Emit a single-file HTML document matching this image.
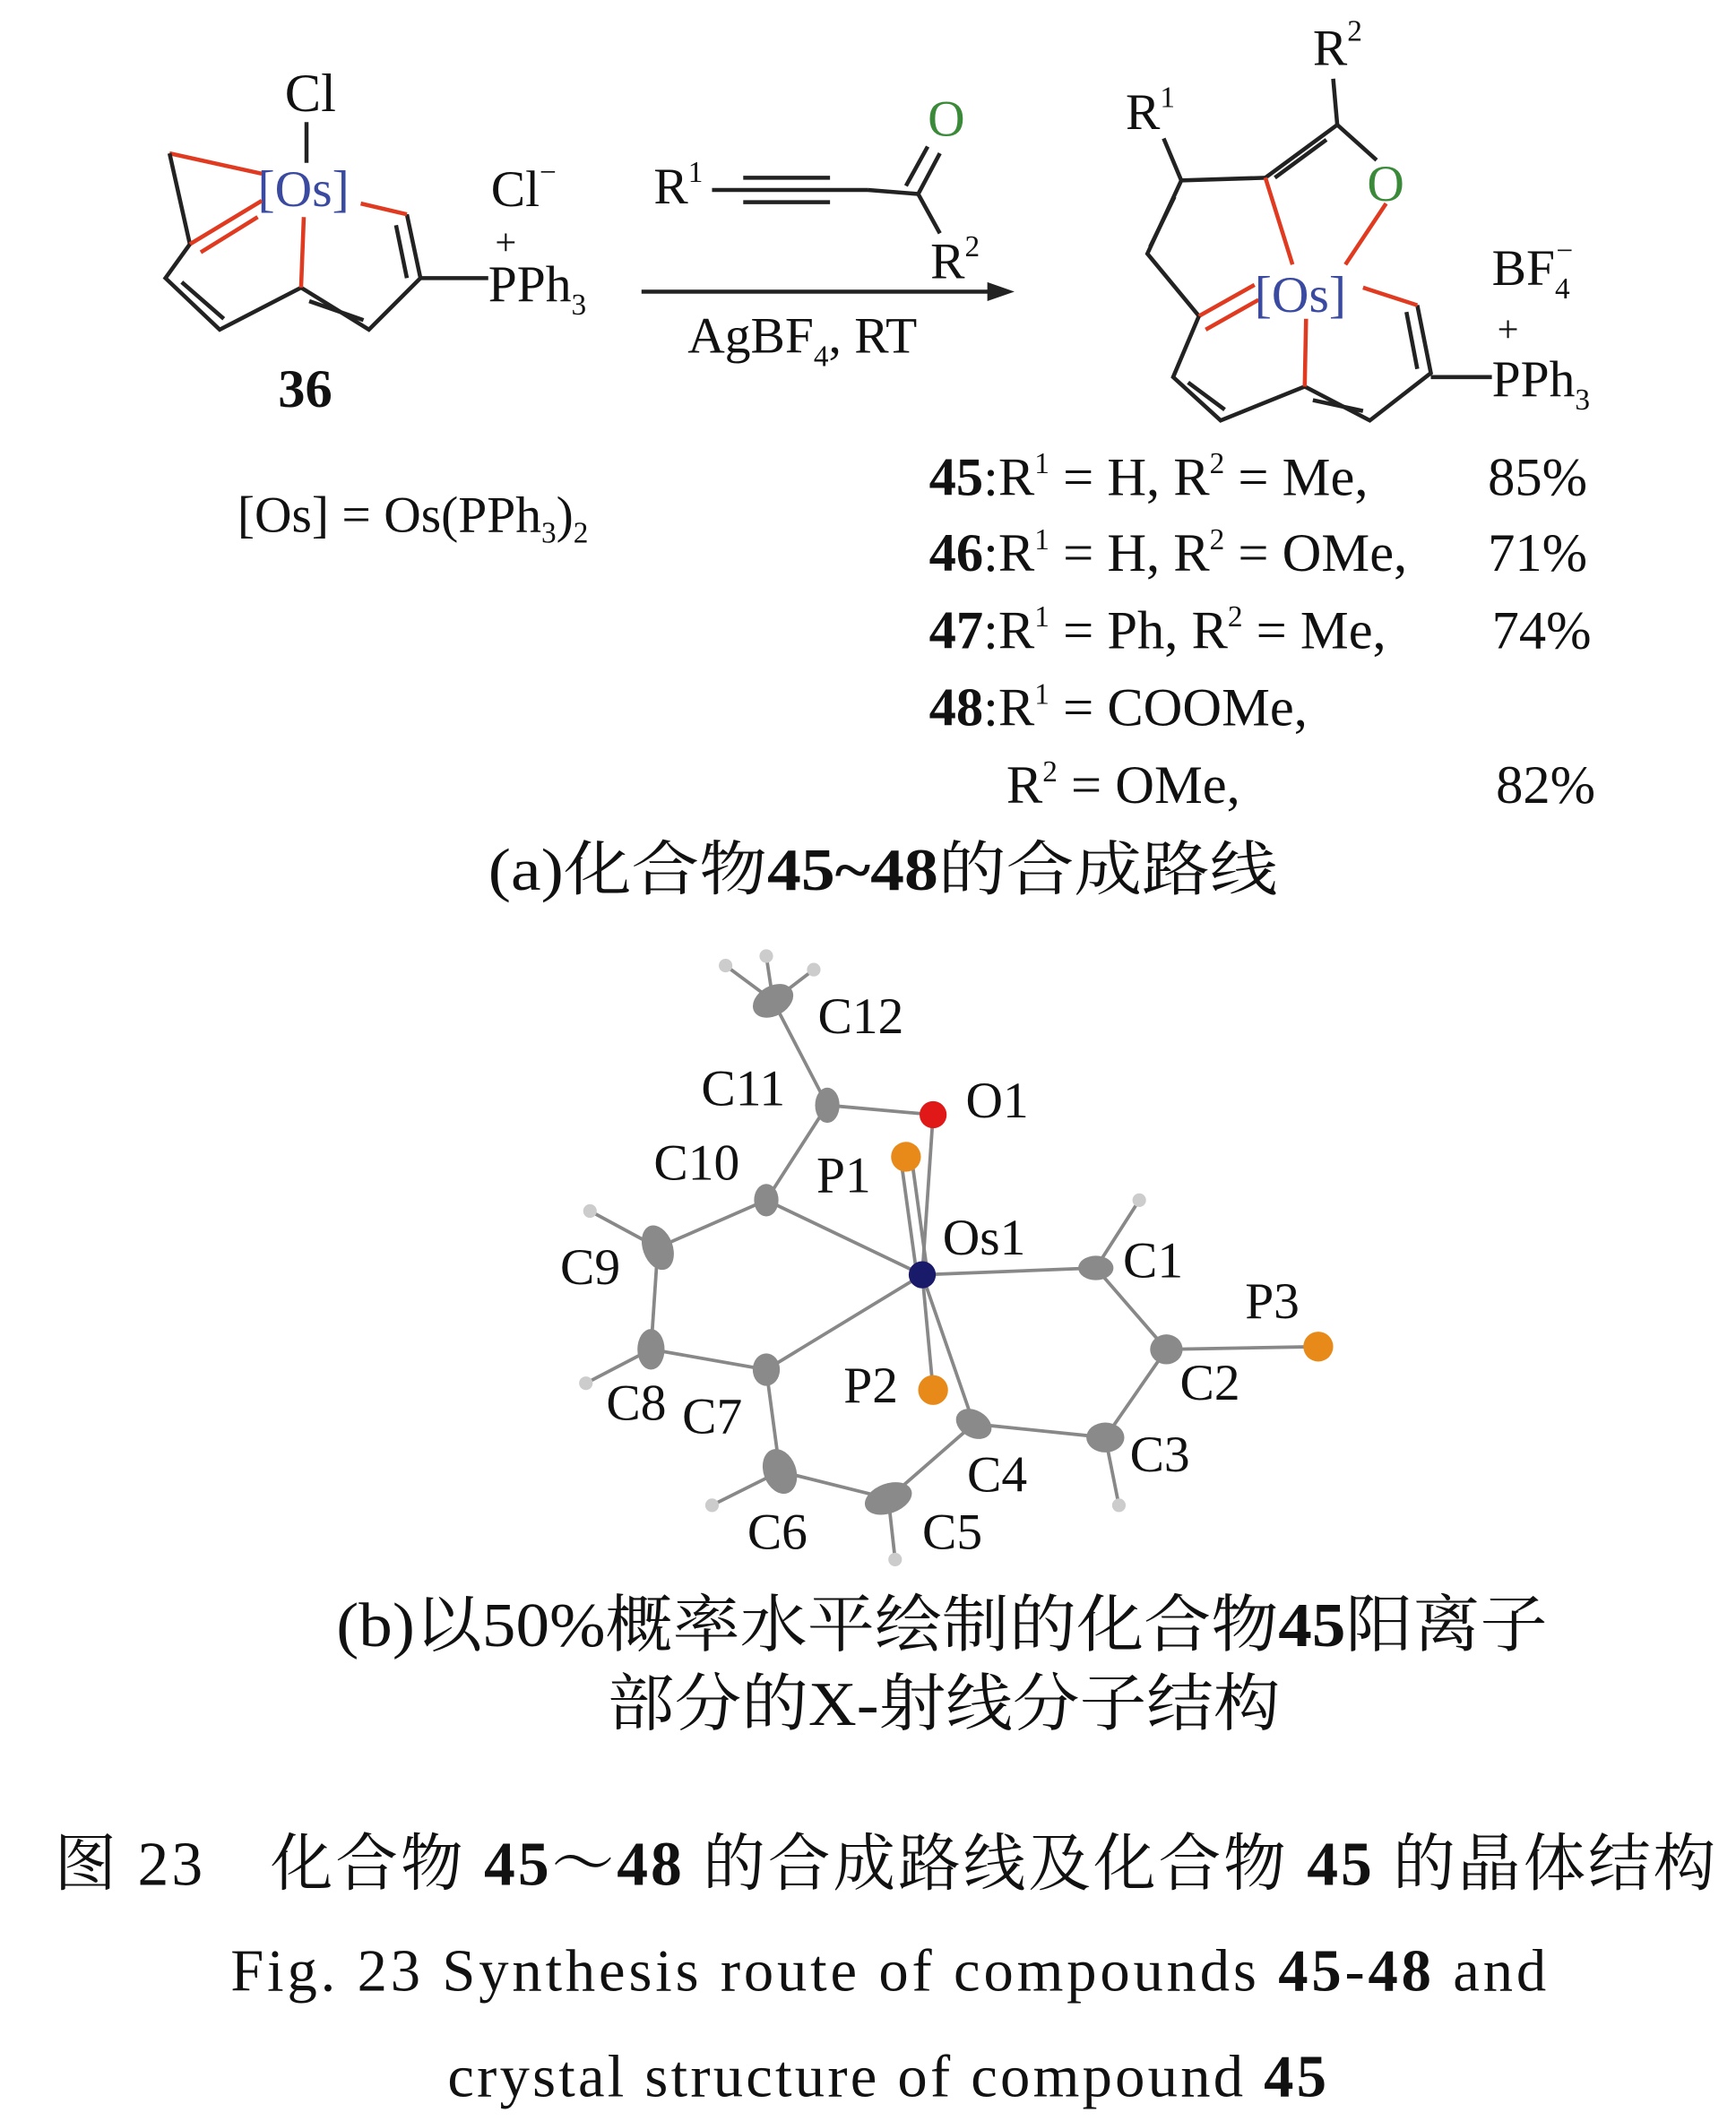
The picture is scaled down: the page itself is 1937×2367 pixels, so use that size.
<!DOCTYPE html>
<html><head><meta charset="utf-8"><style>
html,body{margin:0;padding:0;background:#fff}
svg{display:block}
text{font-family:"Liberation Serif","Noto Serif CJK SC",serif;fill:#111}
.b{stroke:#222;stroke-width:3;fill:none}
.r{stroke:#e03a20;stroke-width:3;fill:none}
.g{stroke:#888;stroke-width:2.5}
</style></head><body>
<svg width="1937" height="2367" viewBox="0 0 1280 1564" xmlns="http://www.w3.org/2000/svg">
<!-- compound 36 -->
<text x="210" y="82" font-size="40">Cl</text>
<line class="b" x1="226" y1="90" x2="226" y2="120"/>
<text x="190" y="152" font-size="38" style="fill:#3a4aa0">[Os]</text>
<polyline class="r" points="193,128 125,113"/>
<polyline class="b" points="125,113 140,180"/>
<line class="r" x1="193" y1="148" x2="140" y2="180"/>
<line class="r" x1="190" y1="160" x2="148" y2="186"/>
<polyline class="b" points="140,180 122,205 162,243 222,212 272,243 310,205 300,158"/>
<line class="b" x1="134" y1="208" x2="165" y2="235"/>
<line class="b" x1="228" y1="222" x2="268" y2="236"/>
<line class="b" x1="300" y1="205" x2="292" y2="166"/>
<line class="r" x1="300" y1="158" x2="266" y2="150"/>
<line class="r" x1="224" y1="160" x2="222" y2="212"/>
<line class="b" x1="310" y1="205" x2="360" y2="205"/>
<text x="362" y="152" font-size="38">Cl<tspan font-size="22" dy="-18">−</tspan></text>
<text x="365" y="188" font-size="28">+</text>
<text x="360" y="222" font-size="38">PPh<tspan font-size="22" dy="10">3</tspan></text>
<text x="205" y="300" font-size="40" font-weight="bold">36</text>
<text x="175" y="392" font-size="38">[Os] = Os(PPh<tspan font-size="22" dy="8">3</tspan><tspan dy="-8">)</tspan><tspan font-size="22" dy="8">2</tspan></text>
<!-- reagent -->
<text x="482" y="150" font-size="38">R<tspan font-size="22" dy="-16">1</tspan></text>
<line class="b" x1="525" y1="140" x2="640" y2="140"/>
<line class="b" x1="548" y1="131" x2="612" y2="131"/>
<line class="b" x1="548" y1="149" x2="612" y2="149"/>
<line class="b" x1="640" y1="140" x2="677" y2="143"/>
<line class="b" x1="677" y1="143" x2="693" y2="113"/>
<line class="b" x1="668" y1="137" x2="684" y2="108"/>
<line class="b" x1="677" y1="143" x2="693" y2="172"/>
<text x="684" y="100" font-size="38" style="fill:#3a8a3a">O</text>
<text x="686" y="205" font-size="38">R<tspan font-size="22" dy="-16">2</tspan></text>
<line class="b" x1="473" y1="215" x2="735" y2="215"/>
<polygon points="748,215 728,208 728,222" fill="#222"/>
<text x="507" y="260" font-size="38">AgBF<tspan font-size="22" dy="10">4</tspan><tspan dy="-10">, RT</tspan></text>
<!-- product -->
<text x="968" y="48" font-size="38">R<tspan font-size="22" dy="-18">2</tspan></text>
<line class="b" x1="983" y1="58" x2="986" y2="92"/>
<line class="b" x1="986" y1="92" x2="1015" y2="118"/>
<text x="1008" y="148" font-size="38" style="fill:#3a8a3a">O</text>
<line class="b" x1="986" y1="92" x2="933" y2="131"/>
<line class="b" x1="978" y1="103" x2="940" y2="131"/>
<text x="830" y="95" font-size="38">R<tspan font-size="22" dy="-16">1</tspan></text>
<line class="b" x1="858" y1="102" x2="871" y2="133"/>
<polyline class="b" points="933,131 871,133 846,187 884,233"/>
<line class="b" x1="866" y1="145" x2="848" y2="182"/>
<line class="r" x1="884" y1="233" x2="925" y2="210"/>
<line class="r" x1="889" y1="243" x2="928" y2="221"/>
<line class="r" x1="933" y1="131" x2="953" y2="195"/>
<line class="r" x1="1022" y1="150" x2="992" y2="195"/>
<text x="925" y="230" font-size="38" style="fill:#3a4aa0">[Os]</text>
<polyline class="b" points="884,233 865,278 900,310 962,285 1010,310 1055,275 1045,225"/>
<line class="b" x1="876" y1="282" x2="903" y2="302"/>
<line class="b" x1="968" y1="295" x2="1005" y2="303"/>
<line class="b" x1="1045" y1="272" x2="1037" y2="230"/>
<line class="r" x1="1045" y1="225" x2="1005" y2="212"/>
<line class="r" x1="963" y1="235" x2="962" y2="285"/>
<line class="b" x1="1055" y1="278" x2="1100" y2="278"/>
<text x="1100" y="210" font-size="38">BF<tspan font-size="22" dy="10">4</tspan><tspan font-size="22" dx="-10" dy="-28">−</tspan></text>
<text x="1104" y="252" font-size="28">+</text>
<text x="1100" y="292" font-size="38">PPh<tspan font-size="22" dy="10">3</tspan></text>
<!-- yields -->
<g font-size="40">
<text x="685" y="365"><tspan font-weight="bold">45</tspan>:R<tspan font-size="22" dy="-16">1</tspan><tspan dy="16"> = H, R</tspan><tspan font-size="22" dy="-16">2</tspan><tspan dy="16"> = Me,</tspan></text><text x="1097" y="365">85%</text>
<text x="685" y="421"><tspan font-weight="bold">46</tspan>:R<tspan font-size="22" dy="-16">1</tspan><tspan dy="16"> = H, R</tspan><tspan font-size="22" dy="-16">2</tspan><tspan dy="16"> = OMe,</tspan></text><text x="1097" y="421">71%</text>
<text x="685" y="478"><tspan font-weight="bold">47</tspan>:R<tspan font-size="22" dy="-16">1</tspan><tspan dy="16"> = Ph, R</tspan><tspan font-size="22" dy="-16">2</tspan><tspan dy="16"> = Me,</tspan></text><text x="1100" y="478">74%</text>
<text x="685" y="535"><tspan font-weight="bold">48</tspan>:R<tspan font-size="22" dy="-16">1</tspan><tspan dy="16"> = COOMe,</tspan></text>
<text x="742" y="592">R<tspan font-size="22" dy="-16">2</tspan><tspan dy="16"> = OMe,</tspan></text><text x="1103" y="592">82%</text>
</g>
<text x="360" y="656" font-size="44" textLength="582" lengthAdjust="spacingAndGlyphs">(a)化合物<tspan font-weight="bold">45~48</tspan>的合成路线</text>
<!-- crystal structure -->
<g class="g">
<line x1="570" y1="738" x2="610" y2="815"/><line x1="610" y1="815" x2="688" y2="822"/>
<line x1="610" y1="815" x2="565" y2="885"/><line x1="565" y1="885" x2="485" y2="920"/>
<line x1="485" y1="920" x2="480" y2="995"/><line x1="480" y1="995" x2="565" y2="1010"/>
<line x1="565" y1="1010" x2="575" y2="1085"/><line x1="575" y1="1085" x2="655" y2="1105"/>
<line x1="655" y1="1105" x2="718" y2="1050"/><line x1="718" y1="1050" x2="815" y2="1060"/>
<line x1="815" y1="1060" x2="860" y2="995"/><line x1="860" y1="995" x2="808" y2="935"/>
<line x1="860" y1="995" x2="972" y2="993"/>
<line x1="680" y1="940" x2="565" y2="885"/><line x1="680" y1="940" x2="565" y2="1010"/>
<line x1="680" y1="940" x2="808" y2="935"/><line x1="680" y1="940" x2="688" y2="822"/>
<line x1="676" y1="940" x2="664" y2="853"/><line x1="684" y1="940" x2="672" y2="853"/>
<line x1="680" y1="940" x2="688" y2="1025"/><line x1="680" y1="940" x2="718" y2="1050"/>
<line x1="570" y1="738" x2="535" y2="712"/><line x1="570" y1="738" x2="565" y2="705"/><line x1="570" y1="738" x2="600" y2="715"/>
<line x1="485" y1="920" x2="435" y2="893"/><line x1="480" y1="995" x2="432" y2="1020"/>
<line x1="575" y1="1085" x2="525" y2="1110"/><line x1="655" y1="1105" x2="660" y2="1150"/>
<line x1="815" y1="1060" x2="825" y2="1110"/><line x1="808" y1="935" x2="840" y2="885"/>
</g>
<g fill="#ccc">
<circle cx="535" cy="712" r="5"/><circle cx="565" cy="705" r="5"/><circle cx="600" cy="715" r="5"/>
<circle cx="435" cy="893" r="5"/><circle cx="432" cy="1020" r="5"/><circle cx="525" cy="1110" r="5"/>
<circle cx="660" cy="1150" r="5"/><circle cx="825" cy="1110" r="5"/><circle cx="840" cy="885" r="5"/>
</g>
<g fill="#8a8a8a">
<ellipse cx="570" cy="738" rx="16" ry="11" transform="rotate(-30 570 738)"/>
<ellipse cx="610" cy="815" rx="9" ry="13"/>
<ellipse cx="565" cy="885" rx="9" ry="12"/>
<ellipse cx="485" cy="920" rx="11" ry="17" transform="rotate(-20 485 920)"/>
<ellipse cx="480" cy="995" rx="10" ry="15"/>
<ellipse cx="565" cy="1010" rx="10" ry="12"/>
<ellipse cx="575" cy="1085" rx="12" ry="17" transform="rotate(-20 575 1085)"/>
<ellipse cx="655" cy="1105" rx="18" ry="11" transform="rotate(-20 655 1105)"/>
<ellipse cx="718" cy="1050" rx="14" ry="10" transform="rotate(30 718 1050)"/>
<ellipse cx="815" cy="1060" rx="14" ry="11"/>
<ellipse cx="860" cy="995" rx="12" ry="11"/>
<ellipse cx="808" cy="935" rx="13" ry="9"/>
</g>
<circle cx="688" cy="822" r="10" fill="#e01818"/>
<circle cx="668" cy="853" r="11" fill="#e88a1a"/>
<circle cx="688" cy="1025" r="11" fill="#e88a1a"/>
<circle cx="972" cy="993" r="11" fill="#e88a1a"/>
<circle cx="680" cy="940" r="10" fill="#1a1a6a"/>
<g font-size="38">
<text x="603" y="762">C12</text><text x="517" y="815">C11</text><text x="712" y="824">O1</text>
<text x="482" y="870">C10</text><text x="602" y="879">P1</text><text x="695" y="925">Os1</text>
<text x="828" y="942">C1</text><text x="918" y="972">P3</text><text x="870" y="1032">C2</text>
<text x="833" y="1085">C3</text><text x="713" y="1100">C4</text><text x="680" y="1142">C5</text>
<text x="551" y="1142">C6</text><text x="503" y="1057">C7</text><text x="447" y="1047">C8</text>
<text x="622" y="1034">P2</text><text x="413" y="947">C9</text>
</g>
<text x="248" y="1214" font-size="46" textLength="893" lengthAdjust="spacingAndGlyphs">(b)以50%概率水平绘制的化合物<tspan font-weight="bold">45</tspan>阳离子</text>
<text x="448" y="1272" font-size="46" textLength="496" lengthAdjust="spacingAndGlyphs">部分的X-射线分子结构</text>
<text x="40" y="1390" font-size="46" textLength="1225" lengthAdjust="spacing">图 23　化合物 <tspan font-weight="bold">45</tspan>～<tspan font-weight="bold">48</tspan> 的合成路线及化合物 <tspan font-weight="bold">45</tspan> 的晶体结构</text>
<text x="170" y="1468" font-size="44" textLength="970" lengthAdjust="spacing">Fig. 23  Synthesis route of compounds <tspan font-weight="bold">45</tspan>-<tspan font-weight="bold">48</tspan> and</text>
<text x="330" y="1546" font-size="44" textLength="648" lengthAdjust="spacing">crystal structure of compound <tspan font-weight="bold">45</tspan></text>
</svg>
</body></html>
